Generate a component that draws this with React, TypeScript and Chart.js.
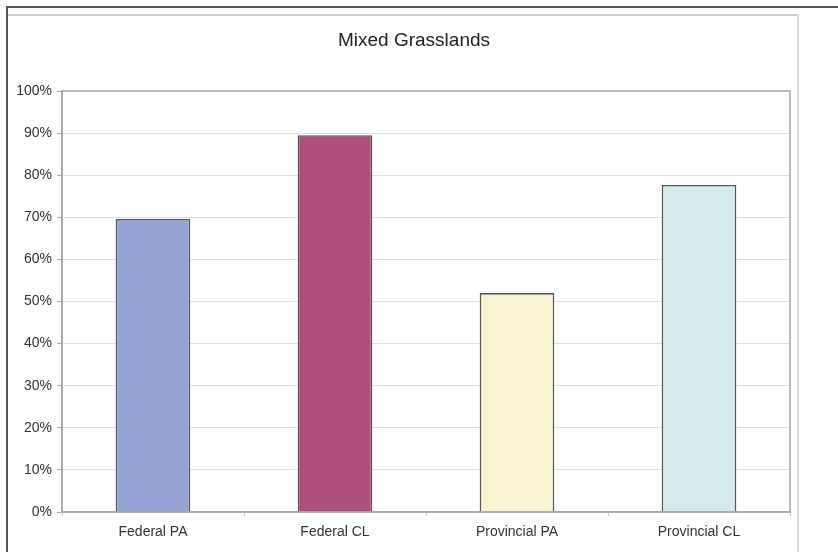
import React, { useEffect, useRef } from "react";
import { Chart, registerables } from "chart.js";

Chart.register(...registerables);

const chartTitle = "Mixed Grasslands";
const categories = ["Federal PA", "Federal CL", "Provincial PA", "Provincial CL"];
const shareValues = [69.6, 89.5, 52.0, 77.7];
const barColors = ["#94a2d4", "#ae4f80", "#faf4d2", "#d4ebee"];
const yTickStep = 10;
const yMax = 100;

const FONT = "'Liberation Sans', Arial, Helvetica, sans-serif";

const frameBorder = {
  id: "frameBorder",
  afterDraw(chart: any) {
    const { ctx, chartArea } = chart;
    ctx.save();
    ctx.strokeStyle = "#a8a8a8";
    ctx.lineWidth = 1.5;
    ctx.strokeRect(chartArea.left, chartArea.top, chartArea.right - chartArea.left, chartArea.bottom - chartArea.top);
    ctx.restore();
  },
};

export default function App() {
  const canvasRef = useRef<HTMLCanvasElement | null>(null);

  useEffect(() => {
    if (!canvasRef.current) return;
    const chart = new Chart(canvasRef.current, {
      type: "bar",
      data: {
        labels: categories,
        datasets: [
          {
            data: shareValues,
            backgroundColor: barColors,
            borderColor: "#555555",
            borderWidth: 1.6,
            categoryPercentage: 1,
            barPercentage: 0.41,
          },
        ],
      },
      plugins: [frameBorder],
      options: {
        responsive: false,
        animation: false,
        layout: { padding: { left: 0, right: 10, top: 0, bottom: 0 } },
        plugins: {
          legend: { display: false },
          tooltip: { enabled: false },
          title: {
            display: true,
            text: chartTitle,
            color: "#222222",
            font: { family: FONT, size: 19, weight: "normal" },
            padding: { top: 29.6, bottom: 38.6 },
          },
        },
        scales: {
          x: {
            offset: true,
            grid: {
              offset: true,
              drawOnChartArea: false,
              drawTicks: true,
              tickLength: 4,
              color: "#c8c8c8",
            },
            border: { display: true, color: "#a8a8a8", width: 1.5 },
            ticks: {
              color: "#333333",
              font: { family: FONT, size: 14 },
              padding: 8,
            },
            afterFit(scale: any) {
              scale.height = 40;
            },
          },
          y: {
            min: 0,
            max: yMax,
            grid: {
              color: "#dedede",
              lineWidth: 1,
              drawTicks: true,
              tickLength: 5,
              tickColor: "#a8a8a8",
            },
            border: { display: true, color: "#a8a8a8", width: 1.5 },
            ticks: {
              stepSize: yTickStep,
              color: "#333333",
              font: { family: FONT, size: 14 },
              padding: 5,
              callback: (v: any) => `${v}%`,
            },
            afterFit(scale: any) {
              scale.width = 62;
            },
          },
          yRightSpacer: {
            type: "linear",
            position: "right",
            display: true,
            grid: { display: false },
            border: { display: false },
            ticks: { display: false },
            afterFit(scale: any) {
              scale.width = 38;
            },
          },
        },
      },
    });
    return () => chart.destroy();
  }, []);

  return (
    <div style={{ position: "absolute", left: 0, top: 0, width: 838, height: 552, background: "#ffffff", overflow: "hidden" }}>
      <canvas ref={canvasRef} width={838} height={552} style={{ position: "absolute", left: 0, top: 0, width: 838, height: 552 }} />
      <div style={{ position: "absolute", left: 8, top: 14, width: 790, height: 1.5, background: "#cccccc" }} />
      <div style={{ position: "absolute", left: 797, top: 14, width: 1.5, height: 540, background: "#dddddd" }} />
      <div style={{ position: "absolute", left: 6, top: 6, width: 832, height: 2, background: "#555555" }} />
      <div style={{ position: "absolute", left: 6, top: 6, width: 2, height: 546, background: "#555555" }} />
    </div>
  );
}
